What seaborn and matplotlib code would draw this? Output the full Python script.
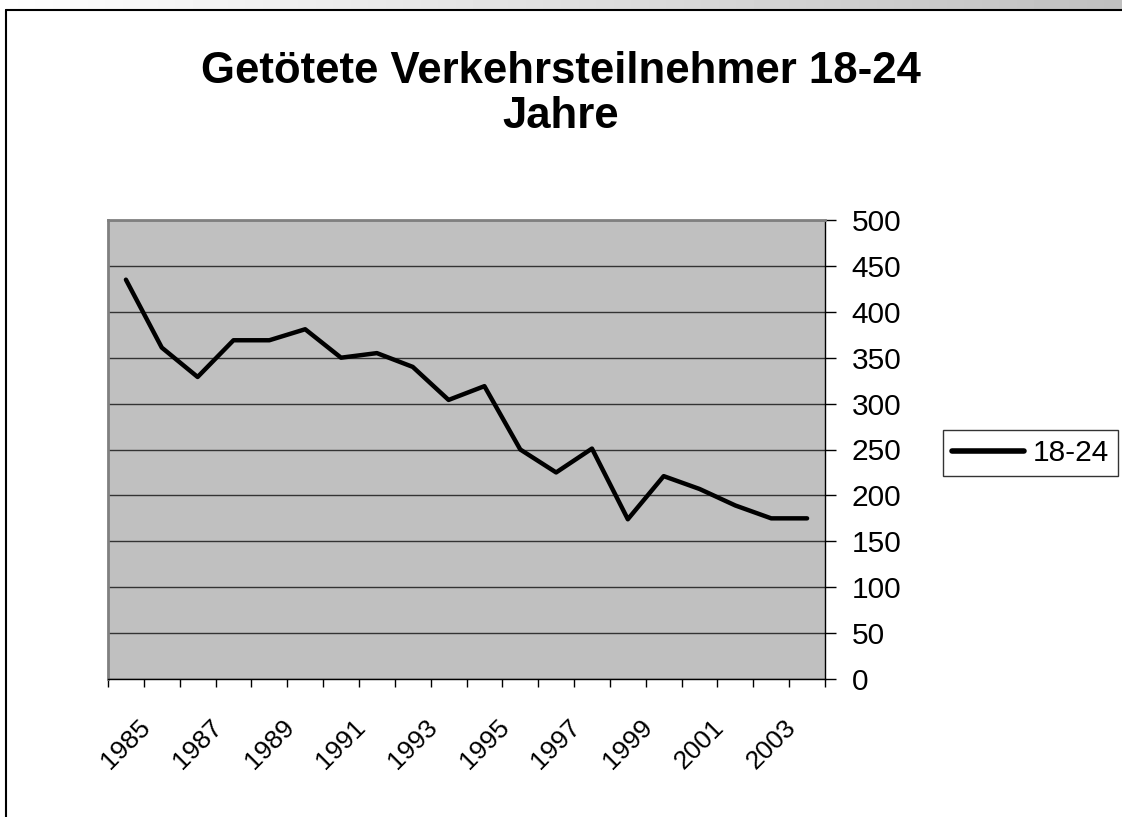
import numpy as np
import pandas as pd
import matplotlib
matplotlib.use("Agg")
import matplotlib.pyplot as plt
import seaborn as sns
from matplotlib.lines import Line2D

# data
years = list(range(1985, 2005))
killed = [435, 361, 329, 369, 369, 381, 350, 355, 340, 304,
          319, 250, 225, 251, 174, 221, 207, 189, 175, 175]
series_name = "18-24"
title = "Getötete Verkehrsteilnehmer 18-24\nJahre"
label_years = years[::2]

df = pd.DataFrame({"Jahr": years, "Getötete": killed})

sns.set_style("white")
plt.rcParams["font.family"] = ["Liberation Sans", "DejaVu Sans"]
plt.rcParams["text.color"] = "black"
plt.rcParams["xtick.color"] = "black"
plt.rcParams["ytick.color"] = "black"

fig = plt.figure(figsize=(11.22, 8.17), dpi=100)
fig.patch.set_facecolor("white")

W, H = 1122, 817
ax = fig.add_axes([108 / W, 1 - 679 / H, (825 - 108) / W, (679 - 220) / H])
ax.set_facecolor("#C0C0C0")

sns.lineplot(data=df, x="Jahr", y="Getötete", color="black", linewidth=3.2,
             label=series_name, ax=ax)

ax.set_xlim(years[0] - 0.5, years[-1] + 0.5)
ax.set_ylim(0, 500)
ax.set_xlabel("")
ax.set_ylabel("")

# y axis on the right
ax.yaxis.tick_right()
ax.set_yticks(np.arange(0, 501, 50))
ax.tick_params(axis="y", which="major", direction="out", length=8, width=1,
               color="black", labelcolor="black", labelsize=21.5, pad=11,
               right=True, left=False)
ax.yaxis.grid(True, color="#333333", linewidth=1)
ax.xaxis.grid(False)

# x ticks: marks at category boundaries, labels every other year
ax.set_xticks(label_years)
ax.set_xticklabels([str(y) for y in label_years], rotation=45, ha="center")
ax.set_xticks(np.arange(years[0] - 0.5, years[-1] + 1.0, 1.0), minor=True)
ax.tick_params(axis="x", which="major", length=0, labelsize=19, pad=26,
               labelcolor="black")
ax.tick_params(axis="x", which="minor", direction="out", length=6, width=1,
               color="black", bottom=True)

for side in ["left", "top"]:
    ax.spines[side].set_color("#808080")
    ax.spines[side].set_linewidth(2)
for side in ["right", "bottom"]:
    ax.spines[side].set_color("black")
    ax.spines[side].set_linewidth(1)

ax.legend_.remove()
leg = fig.legend(handles=[Line2D([], [], color="black", linewidth=4)],
                 labels=[series_name], loc="center left",
                 bbox_to_anchor=(943 / W, 1 - 453 / H), fontsize=21.5,
                 frameon=True, fancybox=False, edgecolor="black",
                 handlelength=2.4, handletextpad=0.3, borderpad=0.3,
                 borderaxespad=0)
leg.get_frame().set_linewidth(1)

fig.text(0.5, 1 - 51 / H, title, ha="center", va="top", fontsize=31.5,
         fontweight="bold", linespacing=1.12, color="black")

# window strip and chart border
strip = fig.add_axes([0, 1 - 9 / H, 1, 9 / H])
strip.imshow(np.linspace(1.0, 0.75, 256).reshape(1, -1), cmap="gray",
             vmin=0, vmax=1, aspect="auto")
strip.axis("off")
fig.add_artist(Line2D([6 / W, 1], [1 - 9.5 / H, 1 - 9.5 / H], color="black",
                      linewidth=1.5, transform=fig.transFigure))
fig.add_artist(Line2D([6 / W, 6 / W], [0, 1 - 9.5 / H], color="black",
                      linewidth=1.5, transform=fig.transFigure))

fig.savefig("out.png", dpi=100, facecolor="white")
